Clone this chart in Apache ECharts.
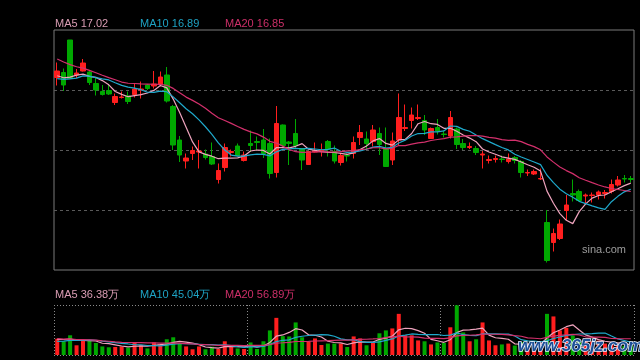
<!DOCTYPE html>
<html><head><meta charset="utf-8">
<script src="https://cdn.jsdelivr.net/npm/echarts@6/dist/echarts.min.js"></script>
<style>html,body{margin:0;padding:0;background:#000;}#c{width:640px;height:360px;}</style>
</head><body><div id="c"></div>
<script>
// ---- data (prices in yuan, volumes in 万) ----
const opens = [19.13,19.23,19.88,19.18,19.26,19.24,19.01,18.85,18.87,18.63,
18.73,18.76,18.79,18.88,18.98,18.96,18.99,19.18,18.55,17.88,
17.46,17.61,17.64,17.60,17.55,17.09,17.33,17.63,17.76,17.47,
17.81,17.85,17.88,17.81,17.23,18.18,17.84,18.01,17.71,17.39,
17.64,17.66,17.85,17.65,17.43,17.57,17.61,17.93,17.90,17.85,
18.01,17.71,17.48,17.88,18.11,18.27,18.31,18.27,17.91,18.13,
18.00,17.96,18.10,17.81,17.73,17.71,17.58,17.47,17.49,17.50,
17.45,17.53,17.45,17.22,17.20,17.10,16.23,15.83,15.91,16.47,
16.81,16.85,16.76,16.77,16.78,16.81,16.85,16.98,17.11,17.11];
const closes = [19.26,18.98,19.11,19.22,19.42,19.03,18.88,18.79,18.80,18.75,
18.74,18.65,18.90,18.90,18.91,19.00,19.14,18.66,17.78,17.58,
17.52,17.67,17.66,17.53,17.40,17.27,17.73,17.65,17.57,17.58,
17.77,17.83,17.61,17.21,18.21,17.77,17.81,17.77,17.48,17.65,
17.66,17.68,17.70,17.46,17.57,17.56,17.83,18.03,17.81,18.08,
17.79,17.35,17.86,18.33,18.13,18.38,18.33,18.08,18.11,18.06,
17.99,18.33,17.79,17.73,17.75,17.63,17.60,17.49,17.51,17.49,
17.50,17.47,17.23,17.23,17.25,17.11,15.47,16.01,16.20,16.58,
16.78,16.67,16.78,16.78,16.84,16.83,16.99,17.08,17.10,17.09];
const highs = [19.43,19.31,19.88,19.30,19.50,19.27,19.14,18.98,18.99,18.81,
18.85,18.85,19.00,19.05,19.00,19.26,19.25,19.34,18.58,17.96,
17.61,17.75,17.88,17.69,17.83,17.41,17.81,17.69,17.81,17.65,
18.07,17.95,18.10,17.91,18.56,18.19,17.86,18.30,17.71,17.65,
17.83,17.81,17.88,17.77,17.61,17.61,17.95,18.18,18.05,18.18,
18.13,18.13,18.03,18.81,18.59,18.53,18.59,18.38,18.13,18.30,
18.06,18.46,18.13,17.90,17.83,17.76,17.66,17.57,17.57,17.57,
17.61,17.56,17.48,17.29,17.29,17.31,16.48,16.11,16.29,16.78,
17.09,16.89,16.81,16.83,16.87,16.88,17.09,17.16,17.18,17.16];
const lows = [18.97,18.86,19.10,19.12,19.25,18.98,18.77,18.77,18.78,18.58,
18.71,18.60,18.73,18.71,18.88,18.91,18.95,18.63,17.68,17.44,
17.31,17.48,17.31,17.49,17.38,17.01,17.25,17.55,17.55,17.45,
17.64,17.67,17.52,17.11,17.13,17.72,17.38,17.70,17.28,17.38,
17.63,17.55,17.55,17.41,17.37,17.45,17.51,17.78,17.68,17.75,
17.58,17.35,17.38,17.78,18.06,18.11,18.28,17.98,17.90,17.99,
17.93,17.91,17.70,17.68,17.70,17.58,17.31,17.41,17.43,17.43,
17.41,17.41,17.13,17.16,17.18,17.08,15.43,15.65,15.88,16.28,
16.65,16.65,16.61,16.63,16.69,16.71,16.81,16.95,17.03,17.03];
const volumes = [57,48,69,34,49,51,42,30,27,28,
30,26,42,34,23,44,37,55,62,40,
30,20,30,20,29,21,48,28,23,21,
44,21,48,86,130,66,65,114,62,46,
58,35,40,40,40,28,65,58,34,42,
76,86,93,144,69,69,51,48,37,44,
42,97,174,79,48,55,114,51,34,37,
40,33,45,36,38,35.4,144,135,86,95,
68,52,50,48,50.5,40,38,35,32,36.9];
// closes / volumes of the 19 sessions before the window (needed for the moving averages)
const priorCloses = [20.18,20.12,20.08,20.00,19.92,19.84,19.78,19.72,19.64,19.64,19.12,19.00,19.08,18.96,19.08,19.18,19.04,19.02,19.32];
const priorVolumes = [70,62,75,58,68,64,72,60,66,65,40,44,38,42,41,52,60,55,51];
const days = closes.map((_, i) => 'D' + (i + 1));
const maPeriods = [5, 10, 20];

// ---- styles ----
const UP = '#ff1e1e', DOWN = '#00a800';
const maLineColors = ['#eea3bd', '#1fa9cc', '#d3306c'];
const maTextColors = ['#d99cb3', '#1ea3c4', '#cc2f68'];
const FONT = '"Liberation Sans", Arial, sans-serif';

function movingAvg(prior, vals, n) {
  const all = prior.concat(vals), off = prior.length;
  return vals.map((_, i) => {
    let s = 0;
    for (let k = 0; k < n; k++) s += all[off + i - k];
    return s / n;
  });
}
const priceMA = maPeriods.map(n => movingAvg(priorCloses, closes, n));
const volMA = maPeriods.map(n => movingAvg(priorVolumes, volumes, n));

const candleData = opens.map((o, i) => [o, closes[i], lows[i], highs[i]]);
const volData = volumes.map((v, i) => ({
  value: v,
  itemStyle: { color: closes[i] > opens[i] ? UP : DOWN }
}));

const chart = echarts.init(document.getElementById('c'), null, { renderer: 'canvas' });

const texts = [];
maPeriods.forEach((n, k) => {
  const px = [55, 140, 225][k];
  texts.push({ type: 'text', x: px, y: 24, silent: true,
    style: { text: 'MA' + n + ' ' + priceMA[k][priceMA[k].length - 1].toFixed(2),
      fill: maTextColors[k], font: '11px ' + FONT, verticalAlign: 'middle', textVerticalAlign: 'middle' } });
  texts.push({ type: 'text', x: px, y: 295, silent: true,
    style: { text: 'MA' + n + ' ' + volMA[k][volMA[k].length - 1].toFixed(2) + '万',
      fill: maTextColors[k], font: '11px ' + FONT, verticalAlign: 'middle', textVerticalAlign: 'middle' } });
});
texts.push({ type: 'text', x: 582, y: 250, silent: true,
  style: { text: 'sina.com', fill: '#9c9c9c', font: '11px ' + FONT, verticalAlign: 'middle', textVerticalAlign: 'middle' } });
texts.push({ type: 'text', x: 518, y: 346, z: 100, silent: true,
  style: { text: 'www.365jz.com', fill: '#1c4f96', stroke: '#e8f0ff', lineWidth: 1.5,
    font: 'italic bold 17px ' + FONT, verticalAlign: 'middle', textVerticalAlign: 'middle' } });

const hideAx = { axisLine: { show: false }, axisTick: { show: false }, axisLabel: { show: false } };

const option = {
  backgroundColor: '#000',
  animation: false,
  grid: [
    { left: 54, right: 6, top: 30, height: 240, show: true, borderColor: '#7a7a7a', borderWidth: 1 },
    { left: 54, right: 6, top: 305, height: 50, show: false }
  ],
  xAxis: [
    Object.assign({ type: 'category', data: days, gridIndex: 0, boundaryGap: true, splitLine: { show: false } }, hideAx),
    Object.assign({ type: 'category', data: days, gridIndex: 1, boundaryGap: true,
      splitLine: { show: true, interval: (i) => i % 30 === 0, lineStyle: { color: '#8a8a8a', type: [1, 2], width: 1 } } }, hideAx)
  ],
  yAxis: [
    Object.assign({ type: 'value', gridIndex: 0, min: 15.28, max: 20.08, scale: true, splitLine: { show: false } }, hideAx),
    Object.assign({ type: 'value', gridIndex: 0, min: 0, max: 4, interval: 1,
      splitLine: { show: true, showMinLine: false, showMaxLine: false, lineStyle: { color: '#5a5a5a', type: [3, 3], width: 1 } } }, hideAx),
    Object.assign({ type: 'value', gridIndex: 1, min: 0, max: 175, interval: 175,
      splitLine: { show: true, lineStyle: { color: '#8a8a8a', type: [1, 2], width: 1 } } }, hideAx)
  ],
  series: [
    { type: 'candlestick', xAxisIndex: 0, yAxisIndex: 0, data: candleData, barWidth: 5,
      itemStyle: { color: UP, color0: DOWN, borderColor: UP, borderColor0: DOWN, borderWidth: 1 } },
    ...maPeriods.map((n, k) => ({ type: 'line', name: 'MA' + n, xAxisIndex: 0, yAxisIndex: 0,
      data: priceMA[k], symbol: 'none', smooth: false, lineStyle: { color: maLineColors[k], width: 1.2 }, z: 3 })),
    { type: 'bar', xAxisIndex: 1, yAxisIndex: 2, data: volData, barWidth: 4 },
    ...maPeriods.map((n, k) => ({ type: 'line', name: 'VMA' + n, xAxisIndex: 1, yAxisIndex: 2,
      data: volMA[k], symbol: 'none', smooth: false, lineStyle: { color: maLineColors[k], width: 1.2 }, z: 3 }))
  ],
  graphic: texts
};
chart.setOption(option);
</script>
</body></html>
